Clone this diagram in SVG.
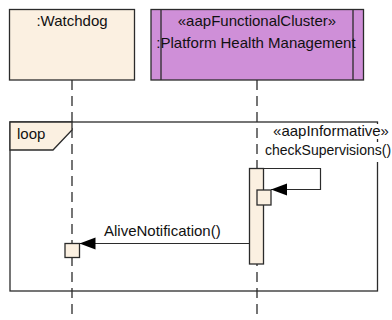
<svg xmlns="http://www.w3.org/2000/svg" width="392" height="320" viewBox="0 0 392 320">
<style>
text{font-family:"Liberation Sans",Arial,sans-serif;font-size:15px;fill:#111}
.ln{stroke:#2b2b2b;stroke-width:1.3;fill:none}
.life{stroke:#2b2b2b;stroke-width:1.3;stroke-dasharray:10,6;fill:none}
.beige{fill:#FBF0E1;stroke:#2b2b2b;stroke-width:1.3}
.purple{fill:#CF8FD8;stroke:#2b2b2b;stroke-width:1.3}
.msg{stroke:#2b2b2b;stroke-width:1.2;fill:none;marker-end:url(#ah)}
</style>
<defs>
<marker id="ah" markerUnits="userSpaceOnUse" markerWidth="17" markerHeight="13" refX="16" refY="6" orient="auto">
<path d="M0,0 L16,6 L0,12 Z" fill="#000"/>
</marker>
</defs>
<rect width="392" height="320" fill="#fff"/>
<g id="lifelines">
<line class="life" x1="72" y1="80" x2="72" y2="320"/>
<line class="life" x1="257" y1="80" x2="257" y2="320"/>
</g>
<g id="watchdog">
<rect class="beige" x="9.5" y="9.5" width="125" height="70.5"/>
<text x="72" y="26" text-anchor="middle">:Watchdog</text>
</g>
<g id="phm">
<rect class="purple" x="151" y="9.5" width="212.5" height="70.5"/>
<line class="ln" x1="161" y1="9.5" x2="161" y2="80"/>
<line class="ln" x1="353" y1="9.5" x2="353" y2="80"/>
<text x="257" y="26" text-anchor="middle">«aapFunctionalCluster»</text>
<text x="256" y="48" text-anchor="middle">:Platform Health Management</text>
</g>
<g id="loop">
<rect class="ln" x="10" y="122" width="367.5" height="169"/>
<path class="beige" d="M10,122 H72 V130 L53,150 H10 Z"/>
<text x="17" y="139">loop</text>
</g>
<g id="activation-phm">
<rect class="beige" x="249.5" y="168.5" width="14" height="95.5"/>
<rect class="beige" x="257" y="190" width="14" height="15"/>
</g>
<g id="activation-watchdog">
<rect class="beige" x="65" y="243.5" width="14.5" height="14"/>
</g>
<g id="connectors">
<path class="msg" d="M263.5,168.5 H320.5 V189.5 H271"/>
<rect x="262" y="124" width="130" height="15" fill="#fff"/>
<rect x="262" y="142" width="130" height="20" fill="#fff"/>
<text x="331" y="136" text-anchor="middle">«aapInformative»</text>
<text x="265" y="155" style="font-size:14px">checkSupervisions()</text>
<line class="msg" x1="249.5" y1="243.5" x2="79.5" y2="243.5"/>
<text x="104" y="236">AliveNotification()</text>
</g>
</svg>
